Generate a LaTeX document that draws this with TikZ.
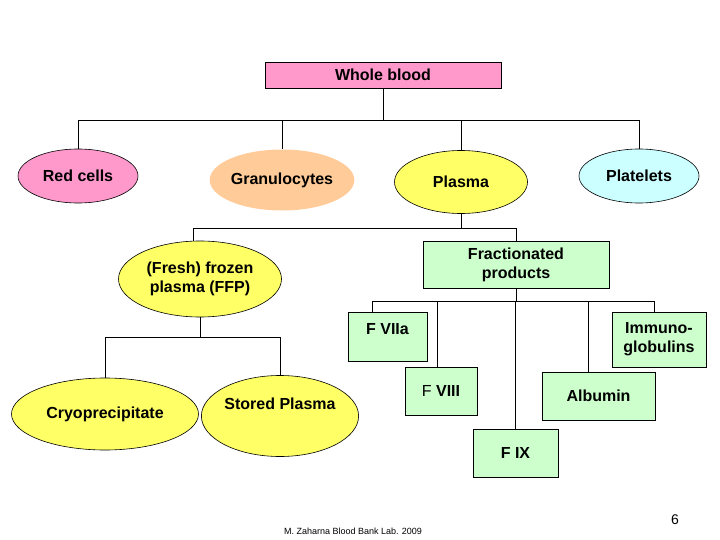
\documentclass[tikz,border=0pt]{standalone}
\usepackage{fontspec}
\setmainfont{Liberation Sans}
\usetikzlibrary{shapes,positioning}
\definecolor{rosa}{HTML}{FF99CC}
\definecolor{peach}{HTML}{FFCC99}
\definecolor{lemon}{HTML}{FFFF66}
\definecolor{aqua}{HTML}{CCFFFF}
\definecolor{mint}{HTML}{CCFFCC}
\begin{document}
\begin{tikzpicture}[x=1pt,y=-1pt,
                  every node/.style={inner sep=0pt, align=center, font=\fontsize{16}{19}\selectfont\bfseries},
                  oval/.style={ellipse, draw, line width=0.6pt},
                  box/.style={rectangle, draw, fill=mint, line width=0.6pt},
                  link/.style={line width=0.8pt},
            ]
            \useasboundingbox[fill=white] (0,0) rectangle (720,540);

            \node[box, fill=rosa, minimum width=236pt, minimum height=26pt] (wb) at (383,75) {Whole blood};
            \coordinate (b1) at (0,120);

            \node[oval, fill=rosa, minimum width=120pt, minimum height=54pt] (rc) at (78,176) {Red cells};
            \node[ellipse, fill=peach, minimum width=140pt, minimum height=61pt] (gr) at (282,180) {Granulocytes};
            \node[oval, fill=lemon, minimum width=133pt, minimum height=63pt] (pl) at (461,182) {Plasma};
            \node[oval, fill=aqua, minimum width=120pt, minimum height=54pt] (pt) at (639,176) {Platelets};
            \draw[link] (wb.south) -- (wb.south |- b1) -| (rc.north);
            \draw[link] (wb.south) -- (wb.south |- b1) -| (gr.north);
            \draw[link] (wb.south) -- (wb.south |- b1) -| (pl.north);
            \draw[link] (wb.south) -- (wb.south |- b1) -| (pt.north);

            \coordinate (b2) at (0,228);
            \node[oval, fill=lemon, minimum width=163pt, minimum height=76pt] (ffp) at (200,279) {(Fresh) frozen\\plasma (FFP)};
            \node[box, minimum width=186pt, minimum height=47pt] (fr) at (516,264.5) {Fractionated\\products};
            \draw[link] (pl.south) -- (pl.south |- b2) -| ([xshift=-7pt]ffp.north);
            \draw[link] (pl.south) -- (pl.south |- b2) -| (fr.north);

            \coordinate (b3) at (0,337);
            \node[oval, fill=lemon, minimum width=187pt, minimum height=72pt] (cr) at (105,414) {Cryoprecipitate};
            \node[oval, fill=lemon, minimum width=156pt, minimum height=81pt] (sp) at (280,416) {Stored Plasma\\[6pt]\mbox{}};
            \draw[link] (ffp.south) -- (ffp.south |- b3) -| (cr.north);
            \draw[link] (ffp.south) -- (ffp.south |- b3) -| (sp.north);

            \coordinate (b4) at (0,301);
            \node[box, minimum width=79pt, minimum height=49pt] (f7a) at (387.5,336.5) {F VIIa\\[-4pt]\mbox{}};
            \node[box, minimum width=72pt, minimum height=48pt] (f8) at (441,391) {{\mdseries F} VIII};
            \node[box, minimum width=85pt, minimum height=48pt] (f9) at (515.5,453) {F IX};
            \node[box, minimum width=113pt, minimum height=48pt] (alb) at (598.5,396) {Albumin};
            \node[box, minimum width=94pt, minimum height=55pt] (im) at (659,339.5) {Immuno-\\globulins};
            \draw[link] (fr.south) -- (fr.south |- b4) -| ([xshift=-15pt]f7a.north);
            \draw[link] (fr.south) -- (fr.south |- b4) -| ([xshift=-4pt]f8.north);
            \draw[link] (fr.south) -- (fr.south |- b4) -| (f9.north);
            \draw[link] (fr.south) -- (fr.south |- b4) -| ([xshift=-10pt]alb.north);
            \draw[link] (fr.south) -- (fr.south |- b4) -| ([xshift=-5pt]im.north);

            \node[font=\fontsize{9}{10}\selectfont] (foot) at (353,531) {M. Zaharna Blood Bank Lab. 2009};
            \node[font=\fontsize{14}{16}\selectfont] (pg) at (675,520) {6};
      \end{tikzpicture}
\end{document}
